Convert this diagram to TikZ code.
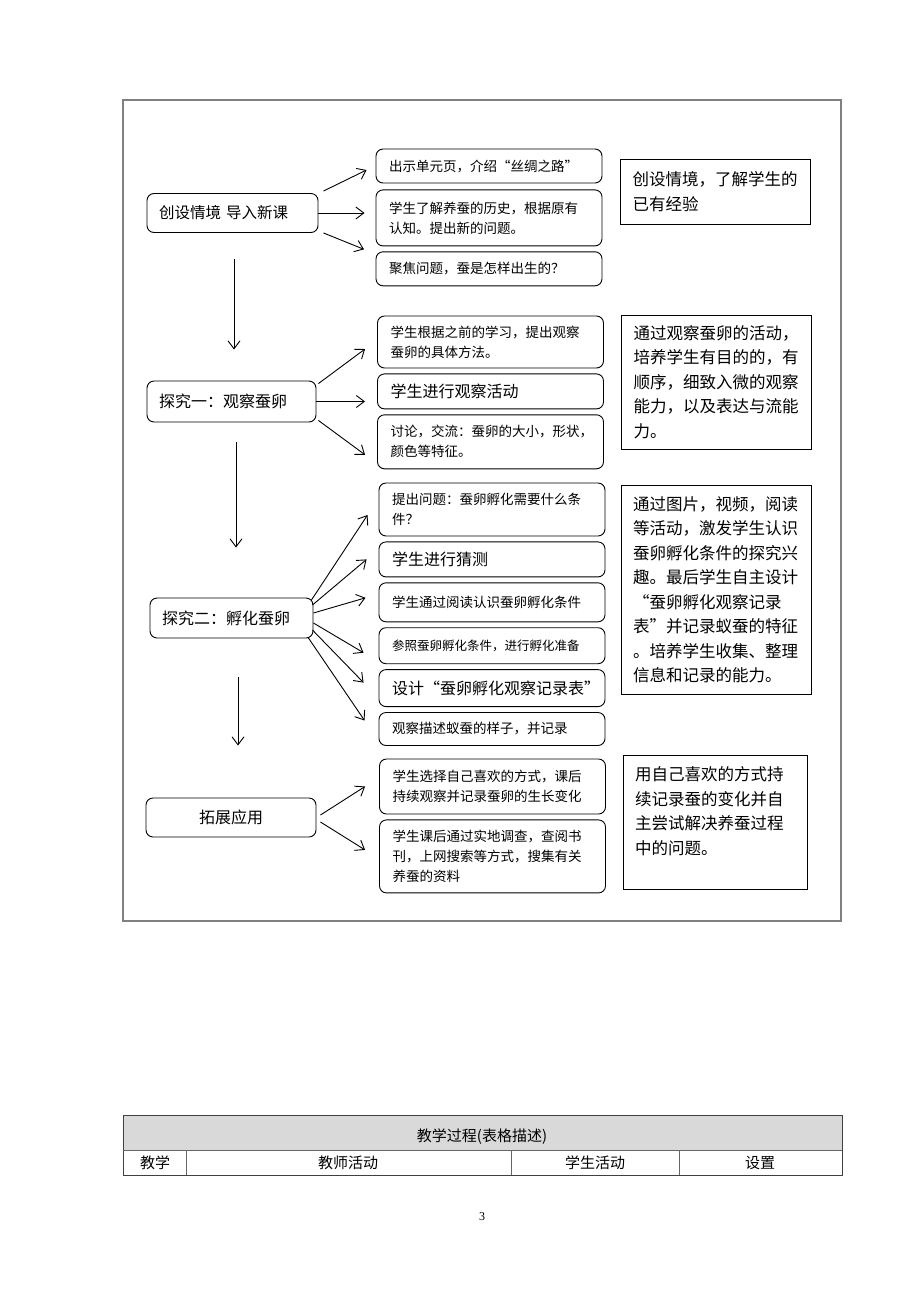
\documentclass[tikz,border=0pt]{standalone}
\usepackage{fontspec}
\setmainfont{Noto Sans CJK SC}
\newfontfamily\pagenofont{Liberation Serif}
\usetikzlibrary{arrows.meta,positioning}
\definecolor{framegray}{RGB}{128,128,128}
\definecolor{headgray}{RGB}{217,217,217}
\tikzset{stagebox/.style={
    % rounded box on the left
    rectangle, rounded corners=7pt,
    draw=black, line width=0.9pt,
    align=left, inner xsep=12pt, inner ysep=0pt,
    font=\fontsize{16}{20}\selectfont
    },
    stepbox/.style={
    rectangle, rounded corners=7pt,
    draw=black, line width=0.9pt,
    text width=200pt, align=left,
    inner xsep=13pt, inner ysep=0pt,
    font=\fontsize{13.5}{20}\selectfont
    },
    bigstep/.style={stepbox, font=\fontsize{16}{20}\selectfont},
    smallstep/.style={stepbox, font=\fontsize{12.5}{18}\selectfont},
    aimbox/.style={
    rectangle, draw=black, line width=1pt,
    text width=166pt, align=left,
    inner xsep=12pt, inner ysep=0pt,
    font=\fontsize{16.5}{24.5}\selectfont
    },
    flow/.style={-{Straight Barb[length=8pt,width=12pt]}, line width=0.9pt},
    cell/.style={font=\fontsize{15}{18}\selectfont, inner sep=0pt},
}

\begin{document}
\begin{tikzpicture}[x=1pt, y=-1pt, node distance=5pt]
  \useasboundingbox (0,0) rectangle (920,1302);
  \draw[framegray, line width=1.3pt] (123,100) rectangle (841,921);

  % stage 1
  \node (intro) [stagebox, minimum width=171pt, minimum height=39pt, text width=147pt,
        font=\fontsize{15.5}{18}\selectfont] at (232.5,213) {创设情境 导入新课};
  \node (show)  [stepbox, minimum height=34pt] at (489,166) {出示单元页，介绍“丝绸之路”};
  \node (hist)  [stepbox, minimum height=56pt, below=6pt of show] {学生了解养蚕的历史，根据原有\\认知。提出新的问题。};
  \node (focus) [stepbox, minimum height=34pt, below=of hist] {聚焦问题，蚕是怎样出生的？};
  \node (aim1)  [aimbox, minimum height=65pt] at (715.5,191.5) {创设情境，了解学生的\\已有经验};

  % stage 2
  \node (look)  [stagebox, minimum width=169pt, minimum height=41pt, text width=145pt] at (231.5,401.5) {探究一：观察蚕卵};
  \node (plan)  [stepbox, minimum height=52pt] at (490.5,342) {学生根据之前的学习，提出观察\\蚕卵的具体方法。};
  \node (act)   [bigstep, minimum height=35pt, below=of plan] {学生进行观察活动};
  \node (talk)  [stepbox, minimum height=54pt, below=of act] {讨论，交流：蚕卵的大小，形状，\\颜色等特征。};
  \node (aim2)  [aimbox, minimum height=134pt] at (716.5,382) {通过观察蚕卵的活动，\\培养学生有目的的，有\\顺序，细致入微的观察\\能力，以及表达与流能\\力。};

  % stage 3
  \node (hatch) [stagebox, minimum width=163pt, minimum height=40pt, text width=139pt] at (231.5,618) {探究二：孵化蚕卵};
  \node (ask)   [stepbox, minimum height=53pt] at (492,509.5) {提出问题：蚕卵孵化需要什么条\\件？};
  \node (guess) [bigstep, minimum height=35pt, below=of ask] {学生进行猜测};
  \node (read)  [stepbox, minimum height=39pt, below=of guess] {学生通过阅读认识蚕卵孵化条件};
  \node (prep)  [smallstep, minimum height=36pt, below=of read] {参照蚕卵孵化条件，进行孵化准备};
  \node (form)  [bigstep, minimum height=37pt, below=of prep] {设计“蚕卵孵化观察记录表”};
  \node (note)  [stepbox, minimum height=33pt, below=of form] {观察描述蚁蚕的样子，并记录};
  \node (aim3)  [aimbox, minimum height=209pt] at (716,589.5) {通过图片，视频，阅读\\等活动，激发学生认识\\蚕卵孵化条件的探究兴\\趣。最后学生自主设计\\“蚕卵孵化观察记录\\表”并记录蚁蚕的特征\\。培养学生收集、整理\\信息和记录的能力。};

  % stage 4
  \node (apply) [stagebox, minimum width=170pt, minimum height=39pt, align=center] at (231,817.5) {拓展应用};
  \node (keep)  [stepbox, minimum height=55pt] at (492.5,786.5) {学生选择自己喜欢的方式，课后\\持续观察并记录蚕卵的生长变化};
  \node (seek)  [stepbox, minimum height=73pt, below=of keep] {学生课后通过实地调查，查阅书\\刊，上网搜索等方式，搜集有关\\养蚕的资料};
  \node (aim4)  [aimbox, minimum height=134pt, text width=160pt] at (715,822)
        {\parbox[c][110pt][t]{160pt}{用自己喜欢的方式持\\续记录蚕的变化并自\\主尝试解决养蚕过程\\中的问题。}};

  % arrows
  \draw[flow] ([shift={(5pt,2pt)}]intro.north east) -- ([shift={(-9pt,-4pt)}]show.west);
  \draw[flow, shorten >=11pt] (intro.east) -- (intro.east -| hist.west);
  \draw[flow] ([shift={(5pt,0pt)}]intro.south east) -- ([shift={(-11.5pt,2pt)}]focus.north west);
  \draw[flow] ([xshift=1.5pt,yshift=-26pt]intro.south) -- ([xshift=2.5pt,yshift=31pt]look.north);

  \draw[flow] ([shift={(2pt,-3pt)}]look.north east) -- ([shift={(-12pt,-7pt)}]plan.west);
  \draw[flow, shorten >=12pt] (look.east) -- (look.east -| act.west);
  \draw[flow] ([shift={(2pt,2pt)}]look.south east) -- ([shift={(-12pt,-13pt)}]talk.west);
  \draw[flow] ([xshift=4.5pt,yshift=-20pt]look.south) -- ([xshift=4.5pt,yshift=50pt]hatch.north);

  \draw[flow] ([shift={(-2pt,18pt)}]hatch.east) -- ([shift={(-11pt,-5.5pt)}]ask.west);
  \draw[flow] ([shift={(-1pt,13pt)}]hatch.east) -- ([shift={(-12pt,0pt)}]guess.west);
  \draw[flow] ([shift={(0pt,5pt)}]hatch.east) -- ([shift={(-13pt,4.5pt)}]read.west);
  \draw[flow] ([shift={(0pt,-5pt)}]hatch.east) -- ([shift={(-15pt,-7pt)}]prep.west);
  \draw[flow] ([shift={(-1pt,-12pt)}]hatch.east) -- ([shift={(-15pt,5.5pt)}]form.west);
  \draw[flow] ([shift={(-5pt,-20pt)}]hatch.east) -- ([shift={(-14pt,8.5pt)}]note.west);
  \draw[flow] ([xshift=6.5pt,yshift=-39pt]hatch.south) -- ([xshift=7pt,yshift=52pt]apply.north);

  \draw[flow] ([shift={(4pt,2.5pt)}]apply.east) -- ([xshift=-14pt]keep.west);
  \draw[flow] ([shift={(4pt,-4.5pt)}]apply.east) -- ([shift={(-14pt,6.5pt)}]seek.west);

  % table head below
  \fill[headgray] (123,1115) rectangle (842,1150);
  \draw[black!75, line width=0.8pt] (123,1115) rectangle (842,1175);
  \draw[black!60, line width=0.8pt] (123,1150) -- (842,1150);
  \foreach \colx in {186,511,679}
    \draw[black!60, line width=0.8pt] (\colx,1150) -- (\colx,1175);
  \node (title)   [cell] at (482,1137) {教学过程(表格描述)};
  \node (colone)  [cell] at (155,1163) {教学};
  \node (coltwo)  [cell] at (348,1163) {教师活动};
  \node (colthr)  [cell] at (595,1163) {学生活动};
  \node (colfour) [cell] at (760,1163) {设置};
  \node (pageno)  [font=\pagenofont\fontsize{12}{14}\selectfont] at (482,1217) {3};
\end{tikzpicture}
\end{document}
